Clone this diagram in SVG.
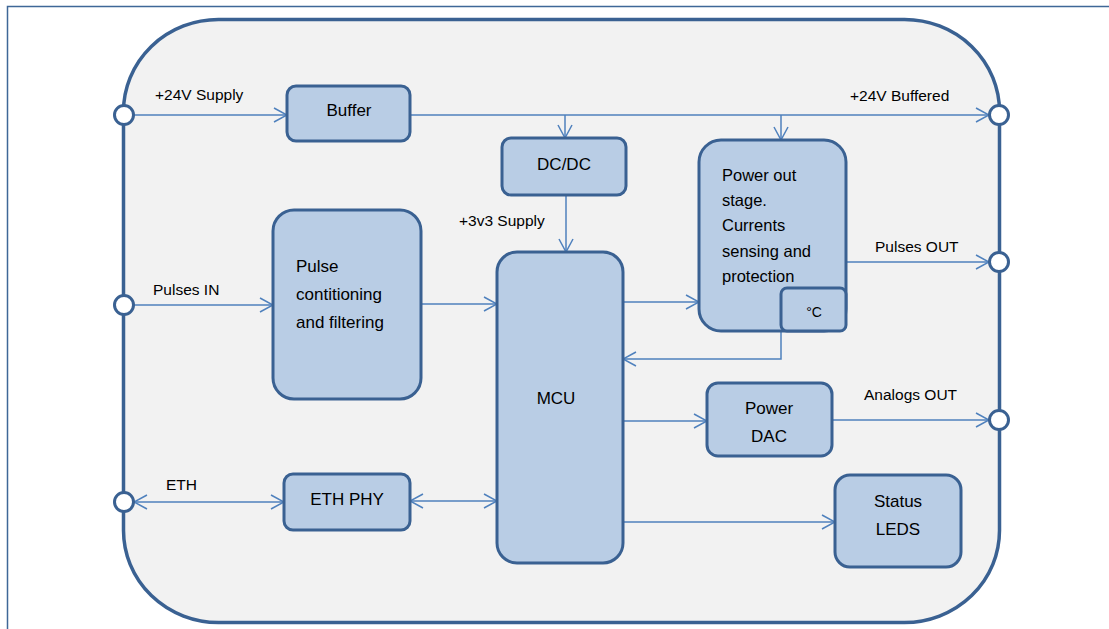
<svg xmlns="http://www.w3.org/2000/svg" width="1109" height="629" viewBox="0 0 1109 629">
<defs>
<marker id="arr" markerUnits="userSpaceOnUse" viewBox="-1 -1 15 16" markerWidth="15" markerHeight="16" refX="13" refY="7" orient="auto-start-reverse">
<path d="M0,0 L13,7 L0,14" fill="none" stroke="#4f81bd" stroke-width="1.5"/>
</marker>
<style>
text{font-family:"Liberation Sans",Arial,sans-serif;fill:#000}
.box{fill:#b9cde5;stroke:#3a6192;stroke-width:3}
.lbl{font-size:15.5px}
.bt{font-size:17px;text-anchor:middle}
.pt{font-size:16.5px}
.port{fill:#fff;stroke:#3a6192;stroke-width:3}
.c{fill:none;stroke:#4f81bd;stroke-width:1.5}
.a{marker-end:url(#arr)}
.ab{marker-end:url(#arr);marker-start:url(#arr)}
</style>
</defs>
<rect width="1109" height="629" fill="#fff"/>
<path d="M7.5,629 V6.5 H1109" fill="none" stroke="#3f6797" stroke-width="1.5"/>
<g id="enclosure">
<rect x="123.5" y="19.5" width="876" height="603" rx="95" ry="92" fill="#f2f2f2" stroke="#3a6192" stroke-width="3.5"/>
</g>
<g id="connectors">
<path class="c a" d="M134,115 H287"/>
<path class="c a" d="M410,115 H989"/>
<path class="c a" d="M565,115 V138"/>
<path class="c a" d="M781,115 V140"/>
<path class="c a" d="M566,195 V252"/>
<path class="c a" d="M134,305 H273"/>
<path class="c a" d="M421,304 H497"/>
<path class="c a" d="M623,302 H699"/>
<path class="c a" d="M846,262 H989"/>
<path class="c a" d="M781,331 V359 H623"/>
<path class="c a" d="M623,421 H707"/>
<path class="c a" d="M832,420 H989"/>
<path class="c a" d="M623,522 H835"/>
<path class="c ab" d="M134,502 H284"/>
<path class="c ab" d="M410,501 H497"/>
</g>
<g id="labels">
<text class="lbl" x="155" y="100">+24V Supply</text>
<text class="lbl" x="850" y="101">+24V Buffered</text>
<text class="lbl" x="459" y="226">+3v3 Supply</text>
<text class="lbl" x="153" y="295">Pulses IN</text>
<text class="lbl" x="875" y="252">Pulses OUT</text>
<text class="lbl" x="864" y="400">Analogs OUT</text>
<text class="lbl" x="166" y="490">ETH</text>
</g>
<g id="port-24v-in"><circle class="port" cx="124" cy="115" r="9.5"/></g>
<g id="port-24v-out"><circle class="port" cx="999" cy="115" r="9.5"/></g>
<g id="port-pulses-in"><circle class="port" cx="124" cy="305" r="9.5"/></g>
<g id="port-pulses-out"><circle class="port" cx="999" cy="262" r="9.5"/></g>
<g id="port-analogs-out"><circle class="port" cx="999" cy="420" r="9.5"/></g>
<g id="port-eth"><circle class="port" cx="124" cy="502" r="9.5"/></g>
<g id="buffer">
<rect class="box" x="287" y="86" width="123" height="55" rx="9"/>
<text class="bt" x="349" y="116">Buffer</text>
</g>
<g id="dcdc">
<rect class="box" x="502" y="138" width="124" height="57" rx="9"/>
<text class="bt" x="564" y="170">DC/DC</text>
</g>
<g id="power-out">
<rect class="box" x="699" y="140" width="147" height="191" rx="22"/>
<text class="pt" x="722" y="181">Power out</text>
<text class="pt" x="722" y="206">stage.</text>
<text class="pt" x="722" y="231">Currents</text>
<text class="pt" x="722" y="257">sensing and</text>
<text class="pt" x="722" y="282">protection</text>
</g>
<g id="temp-sensor">
<rect class="box" x="781" y="288" width="65" height="43" rx="6"/>
<text x="814" y="317" font-size="14" text-anchor="middle">°C</text>
</g>
<g id="pulse-cond">
<rect class="box" x="273" y="210" width="148" height="189" rx="21"/>
<text x="296" y="272" font-size="17">Pulse</text>
<text x="296" y="300" font-size="17">contitioning</text>
<text x="296" y="328" font-size="17">and filtering</text>
</g>
<g id="mcu">
<rect class="box" x="497" y="252" width="126" height="311" rx="20"/>
<text class="bt" x="556" y="404" font-size="18">MCU</text>
</g>
<g id="power-dac">
<rect class="box" x="707" y="383" width="125" height="73" rx="11"/>
<text class="bt" x="769" y="414" font-size="17.5">Power</text>
<text class="bt" x="769" y="442">DAC</text>
</g>
<g id="eth-phy">
<rect class="box" x="284" y="474" width="126" height="56" rx="9"/>
<text class="bt" x="347" y="505">ETH PHY</text>
</g>
<g id="status-leds">
<rect class="box" x="835" y="475" width="126" height="92" rx="15"/>
<text class="bt" x="898" y="507">Status</text>
<text class="bt" x="898" y="535">LEDS</text>
</g>
</svg>
